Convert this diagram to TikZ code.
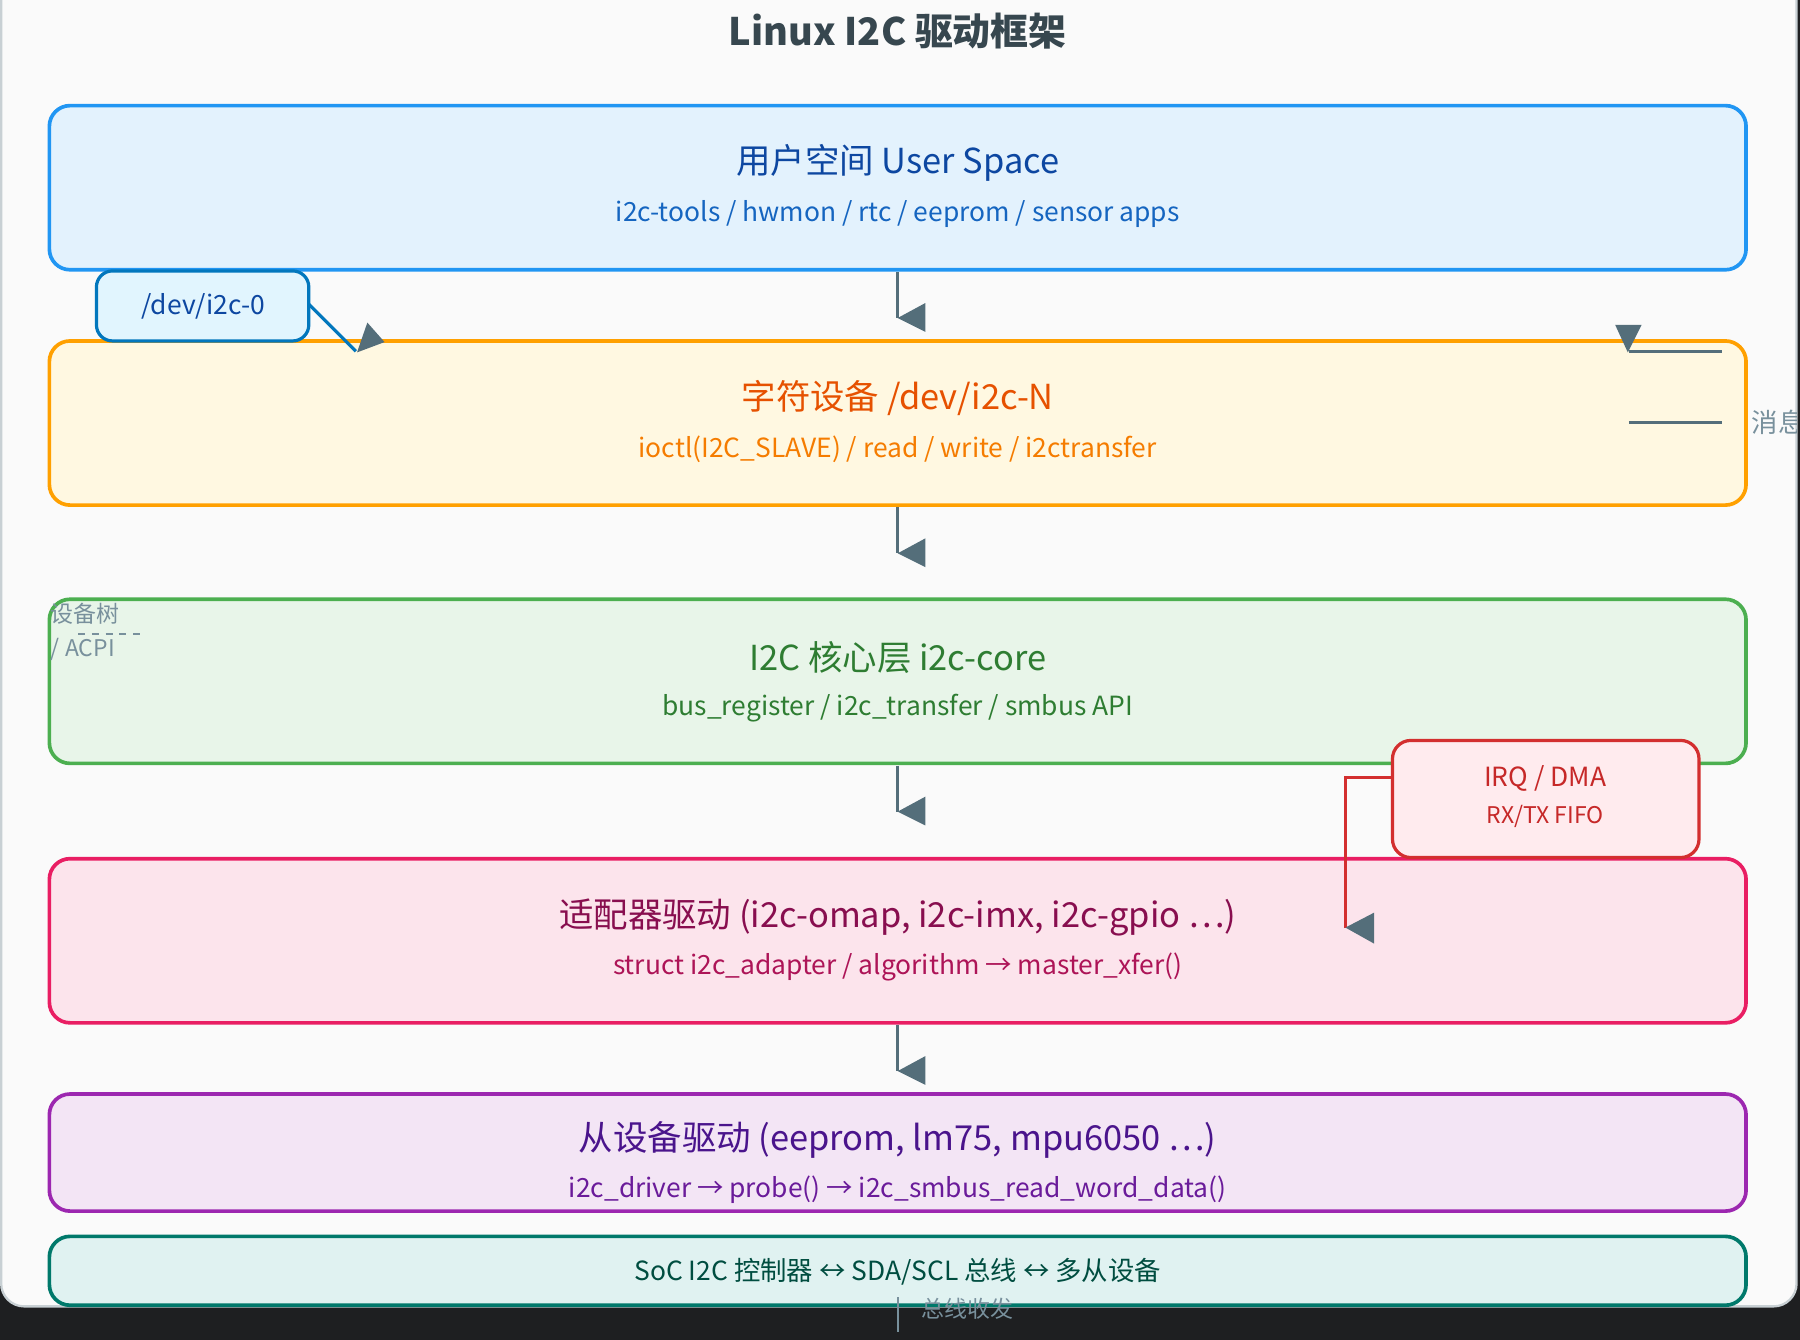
\documentclass[tikz,border=0pt]{standalone}
\usepackage{fontspec}
\setmainfont{Noto Sans CJK SC}
\begin{document}
\begin{tikzpicture}[x=0.5pt,y=-0.5pt,
  layer/.style={draw,line width=1.6pt,rounded corners=9pt},
  tip/.style={fill=arr,draw=none},
  conn/.style={draw=arr,line width=1.4pt},
  ttl/.style={font=\fontsize{15}{18}\selectfont},
  sub/.style={font=\fontsize{11.5}{14}\selectfont}]
\definecolor{arr}{HTML}{546E7A}
\definecolor{gr}{HTML}{78909C}
\useasboundingbox (0,0) rectangle (1568,1167);
\fill[fill={rgb,255:red,30;green,31;blue,33}] (0,0) rectangle (1568,1167);
\filldraw[fill={rgb,255:red,250;green,250;blue,250},draw={rgb,255:red,200;green,208;blue,212},line width=1pt,rounded corners=10pt] (1,-20) rectangle (1565,1138);
\node[font=\fontsize{16.5}{20}\selectfont\bfseries,text={rgb,255:red,55;green,71;blue,79}] (title) at (782,27) {Linux I2C 驱动框架};
\definecolor{c1}{HTML}{2196F3}\definecolor{f1}{HTML}{E3F2FD}\definecolor{t1}{HTML}{0D47A1}\definecolor{s1}{HTML}{1565C0}
\definecolor{c2}{HTML}{FFA000}\definecolor{f2}{HTML}{FFF8E1}\definecolor{t2}{HTML}{E65100}\definecolor{s2}{HTML}{F57C00}
\definecolor{c3}{HTML}{4CAF50}\definecolor{f3}{HTML}{E8F5E9}\definecolor{t3}{HTML}{2E7D32}
\definecolor{c4}{HTML}{E91E63}\definecolor{f4}{HTML}{FCE4EC}\definecolor{t4}{HTML}{880E4F}\definecolor{s4}{HTML}{AD1457}
\definecolor{c5}{HTML}{9C27B0}\definecolor{f5}{HTML}{F3E5F5}\definecolor{t5}{HTML}{4A148C}\definecolor{s5}{HTML}{6A1B9A}
\definecolor{c6}{HTML}{00796B}\definecolor{f6}{HTML}{E0F2F1}\definecolor{t6}{HTML}{004D40}
\definecolor{c7}{HTML}{0277BD}\definecolor{f7}{HTML}{E1F5FE}
\definecolor{c8}{HTML}{D32F2F}\definecolor{f8}{HTML}{FFEBEE}\definecolor{t8}{HTML}{C62828}
\draw[layer,draw=c1,fill=f1] (43,92) rectangle (1521,235);
\node[ttl,text=t1] (u) at (782,142) {用户空间 User Space};
\node[sub,text=s1] (us) at (782,186) {i2c-tools / hwmon / rtc / eeprom / sensor apps};
\draw[layer,draw=c2,fill=f2] (43,297) rectangle (1521,440);
\node[ttl,text=t2] (c) at (782,347) {字符设备 /dev/i2c-N};
\node[sub,text=s2] (cs) at (782,391) {ioctl(I2C\_SLAVE) / read / write / i2ctransfer};
\draw[layer,draw=c3,fill=f3] (43,522) rectangle (1521,665);
\node[ttl,text=t3] (k) at (782,573) {I2C 核心层 i2c-core};
\node[sub,text=t3] (ks) at (782,617) {bus\_register / i2c\_transfer / smbus API};
\draw[layer,draw=c4,fill=f4] (43,748) rectangle (1521,891);
\node[ttl,text=t4] (a) at (782,799) {适配器驱动 (i2c-omap, i2c-imx, i2c-gpio …)};
\node[sub,text=s4] (as) at (782,842) {struct i2c\_adapter / algorithm → master\_xfer()};
\draw[layer,draw=c5,fill=f5] (43,953) rectangle (1521,1055);
\node[ttl,text=t5] (s) at (782,993) {从设备驱动 (eeprom, lm75, mpu6050 …)};
\node[sub,text=s5] (ss) at (782,1036) {i2c\_driver → probe() → i2c\_smbus\_read\_word\_data()};
\draw[layer,draw=c6,fill=f6] (43,1077) rectangle (1521,1137);
\node[sub,text=t6] (h) at (782,1108) {SoC I2C 控制器 ↔ SDA/SCL 总线 ↔ 多从设备};
\foreach \y in {235,440,665,891}{
  \draw[conn] (782,\y+2) -- (782,\y+42);
  \fill[tip] (782,\y+42) -- (806,\y+29) -- (806,\y+54) -- cycle;
}
\draw[line width=1.4pt,draw=c7,fill=f7,rounded corners=7pt] (84,236) rectangle (269,297);
\node[sub,text=t1] (d0) at (177,267) {/dev/i2c-0};
\draw[draw=c7,line width=1.4pt] (269,265) -- (310,306);
\fill[tip] (320,281) -- (335,298) -- (311,307) -- cycle;
\draw[conn] (1419,306) -- (1500,306);
\draw[conn] (1419,368) -- (1500,368);
\fill[tip] (1418,307) -- (1407,283) -- (1430,283) -- cycle;
\begin{scope}
\clip (0,0) rectangle (1565,1138);
\node[sub,text=gr,anchor=west] (msg) at (1519,368) {消息};
\end{scope}
\node[font=\fontsize{10}{12}\selectfont,text=gr,anchor=west,inner sep=0] (dt) at (44,535) {设备树};
\draw[gr,dashed,line width=1pt] (68,552) -- (125,552);
\node[font=\fontsize{10}{12}\selectfont,text=gr,anchor=west,inner sep=0] (acpi) at (44,566) {/ ACPI};
\draw[line width=1.4pt,draw=c8,fill=f8,rounded corners=8pt] (1213,645) rectangle (1480,747);
\node[sub,text=t8] (irq) at (1346,678) {IRQ / DMA};
\node[font=\fontsize{10}{12}\selectfont,text=t8] (fifo) at (1346,711) {RX/TX FIFO};
\draw[draw=c8,line width=1.4pt] (1213,677) -- (1172,677) -- (1172,808);
\fill[tip] (1172,808) -- (1197,795) -- (1197,822) -- cycle;
\draw[gr,line width=1pt] (782,1130) -- (782,1160);
\node[font=\fontsize{10}{12}\selectfont,text=gr] (bus) at (843,1140) {总线收发};
\end{tikzpicture}
\end{document}
